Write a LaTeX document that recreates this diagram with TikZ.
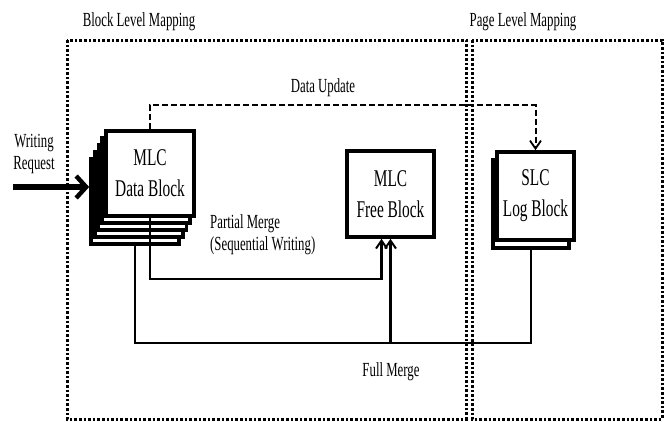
\documentclass[tikz,border=0pt]{standalone}
\usepackage{fontspec}
\setmainfont{Liberation Serif}[FakeStretch=0.64]
\usetikzlibrary{arrows.meta}
\usetikzlibrary{calc}

\tikzset{
  blockbox/.style={draw, fill=white, line width=3.6pt, minimum width=88pt,
    minimum height=85pt, align=center, inner sep=0pt,
    font=\fontsize{24}{31}\selectfont},
  maplabel/.style={font=\fontsize{20}{22}\selectfont, align=center, inner sep=0pt},
  mapregion/.style={line width=3pt, dash pattern=on 2.6pt off 2pt},
  flow/.style={line width=2.3pt},
  flowtip/.style={-{Straight Barb[length=8pt,width=11pt,line width=2pt]}},
  updatepath/.style={line width=2pt, dash pattern=on 6pt off 3pt,
    -{Straight Barb[length=8pt,width=11pt,line width=1.8pt]}},
  writearrow/.style={line width=6pt,
    -{Straight Barb[length=10pt,width=22pt,line width=4.5pt]}},
}

\begin{document}
\begin{tikzpicture}[x=1pt,y=-1pt]
    \useasboundingbox (0,0) rectangle (665,421);
    % mapping regions
    \draw[mapregion] (67,40) rectangle (466,419);
    \draw[mapregion] (472,40) rectangle (662,419);
    \node[maplabel] (blocklab) at (139,22) {Block Level Mapping};
    \node[maplabel] (pagelab) at (523,22) {Page Level Mapping};

    % stacked data blocks, back to front
    \foreach \i in {4,...,1}
      \node[blockbox] (data\i) at ($(150,173.5)+(-3.75*\i,7*\i)$) {};
    \node[blockbox] (data0) at (150,173.5) {MLC\\Data Block};

    \node[blockbox, minimum width=87pt, minimum height=86pt] (free) at (390.5,194) {MLC\\Free Block};

    \node[blockbox, minimum width=76pt, minimum height=88pt] (slcback) at (531,204) {};
    \node[blockbox, minimum width=77pt, minimum height=88pt] (slc) at (535.5,196) {SLC\\Log Block};

    % writing request
    \node[maplabel] (writelab) at (34,154) {Writing\\Request};
    \coordinate (wr) at (13,187);
    \draw[writearrow] (wr) -- (wr -| data4.west);

    % data update
    \draw[updatepath] (data0.north) -- ++(0,-24) -| (slc.north);
    \node[maplabel] (updlab) at (323,88) {Data Update};

    % partial merge
    \coordinate (pmtip) at ($(free.south)+(-9,0)$);
    \draw[flow,flowtip] (data0.south) -- ++(0,61) -| (pmtip);
    \node[maplabel, align=left, anchor=west] (pmlab) at (210,235) {Partial Merge\\(Sequential Writing)};

    % full merge
    \coordinate (fmrow) at (0,343);
    \draw[flow] (data4.south) |- (fmrow -| slcback.south) -- (slcback.south);
    \draw[flow,flowtip] (fmrow -| free.south) -- (free.south);
    \node[maplabel] (fmlab) at (391,372) {Full Merge};
\end{tikzpicture}
\end{document}
